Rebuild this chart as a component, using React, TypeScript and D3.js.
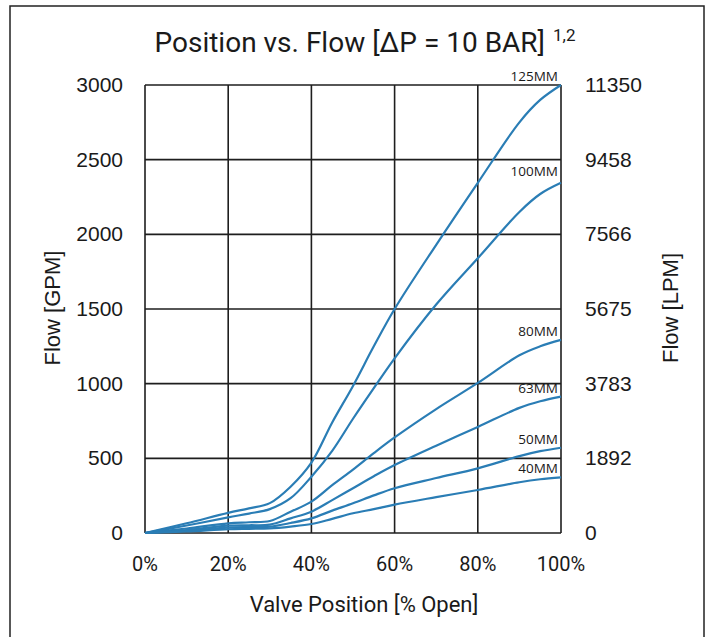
import React, { useEffect, useRef } from "react";
import * as d3 from "d3";

// valve position in % open
const positions = [0, 10, 20, 25, 30, 35, 40, 45, 50, 55, 60, 70, 80, 90, 95, 100];

// flow in GPM for each valve size
const flow125 = [0, 65, 135, 165, 200, 310, 471, 740, 985, 1250, 1500, 1930, 2345, 2750, 2900, 3000];
const flow100 = [0, 50, 105, 130, 160, 233, 377, 550, 765, 970, 1170, 1530, 1840, 2150, 2270, 2345];
const flow80 = [0, 30, 65, 72, 80, 143, 210, 320, 425, 535, 640, 830, 1005, 1190, 1250, 1293];
const flow63 = [0, 20, 49, 52, 56, 98, 143, 220, 300, 380, 455, 585, 710, 838, 882, 913];
const flow50 = [0, 15, 36, 40, 43, 67, 98, 150, 199, 252, 300, 368, 433, 515, 548, 571];
const flow40 = [0, 10, 25, 28, 31, 43, 60, 95, 132, 160, 190, 240, 288, 340, 360, 373];

const sizeLabels = ["125MM", "100MM", "80MM", "63MM", "50MM", "40MM"];
const gpmTicks = [0, 500, 1000, 1500, 2000, 2500, 3000];
const lpmTicks = ["0", "1892", "3783", "5675", "7566", "9458", "11350"];
const xTicks = [0, 20, 40, 60, 80, 100];

const App = () => {
  const ref = useRef<SVGSVGElement>(null);

  useEffect(() => {
    const svg = d3.select(ref.current);
    svg.selectAll("*").remove();

    const left = 145;
    const right = 561;
    const top = 85;
    const bottom = 533;
    const gridColor = "#1e1e1e";
    const lineColor = "#2a7db5";

    const x = d3.scaleLinear().domain([0, 100]).range([left, right]);
    const y = d3.scaleLinear().domain([0, 3000]).range([bottom, top]);

    // outer frame
    svg
      .append("rect")
      .attr("x", 10)
      .attr("y", 6)
      .attr("width", 694)
      .attr("height", 660)
      .attr("fill", "white")
      .attr("stroke", "#222")
      .attr("stroke-width", 1.5);

    // title
    const title = svg
      .append("text")
      .attr("x", 365)
      .attr("y", 52)
      .attr("text-anchor", "middle")
      .style("font-family", "Roboto")
      .style("font-size", "28px")
      .style("fill", "#1a1a1a");
    title.append("tspan").text("Position vs. Flow [ΔP = 10 BAR]");
    title
      .append("tspan")
      .attr("dx", 8)
      .attr("dy", -11)
      .style("font-size", "17px")
      .text("1,2");

    // grid
    const grid = svg.append("g");
    grid
      .selectAll("line.h")
      .data(gpmTicks)
      .enter()
      .append("line")
      .attr("x1", left)
      .attr("x2", right)
      .attr("y1", d => y(d))
      .attr("y2", d => y(d))
      .attr("stroke", gridColor)
      .attr("stroke-width", 1.6);
    grid
      .selectAll("line.v")
      .data(xTicks)
      .enter()
      .append("line")
      .attr("x1", d => x(d))
      .attr("x2", d => x(d))
      .attr("y1", top)
      .attr("y2", bottom)
      .attr("stroke", gridColor)
      .attr("stroke-width", 1.6);

    // left axis labels
    svg
      .append("g")
      .selectAll("text")
      .data(gpmTicks)
      .enter()
      .append("text")
      .attr("x", 123)
      .attr("y", d => y(d) + 7)
      .attr("text-anchor", "end")
      .style("font-family", "Liberation Sans")
      .style("font-size", "21px")
      .style("fill", "#1a1a1a")
      .text(d => d);

    // right axis labels
    svg
      .append("g")
      .selectAll("text")
      .data(lpmTicks)
      .enter()
      .append("text")
      .attr("x", 585)
      .attr("y", (d, i) => y(gpmTicks[i]) + 7)
      .style("font-family", "Liberation Sans")
      .style("font-size", "21px")
      .style("fill", "#1a1a1a")
      .text(d => d);

    // x axis labels
    svg
      .append("g")
      .selectAll("text")
      .data(xTicks)
      .enter()
      .append("text")
      .attr("x", d => x(d))
      .attr("y", 571)
      .attr("text-anchor", "middle")
      .style("font-family", "Roboto")
      .style("font-size", "20px")
      .style("fill", "#1a1a1a")
      .text(d => d + "%");

    svg
      .append("text")
      .attr("x", 364)
      .attr("y", 612)
      .attr("text-anchor", "middle")
      .style("font-family", "Roboto")
      .style("font-size", "22px")
      .style("fill", "#1a1a1a")
      .text("Valve Position [% Open]");

    svg
      .append("text")
      .attr("transform", "translate(60,308) rotate(-90)")
      .attr("text-anchor", "middle")
      .style("font-family", "Liberation Sans")
      .style("font-size", "22px")
      .style("fill", "#1a1a1a")
      .text("Flow [GPM]");

    svg
      .append("text")
      .attr("transform", "translate(678,308) rotate(-90)")
      .attr("text-anchor", "middle")
      .style("font-family", "Liberation Sans")
      .style("font-size", "22px")
      .style("fill", "#1a1a1a")
      .text("Flow [LPM]");

    // curves
    const series = [flow125, flow100, flow80, flow63, flow50, flow40];
    const line = d3
      .line<number>()
      .x((d, i) => x(positions[i]))
      .y(d => y(d))
      .curve(d3.curveCatmullRom.alpha(0.5));

    svg
      .append("g")
      .selectAll("path")
      .data(series)
      .enter()
      .append("path")
      .attr("d", d => line(d))
      .attr("fill", "none")
      .attr("stroke", lineColor)
      .attr("stroke-width", 2.2);

    svg
      .append("g")
      .selectAll("text")
      .data(series)
      .enter()
      .append("text")
      .attr("x", right - 3)
      .attr("y", (d, i) => y(d[d.length - 1]) - (i === 1 ? 7 : 4))
      .attr("text-anchor", "end")
      .style("font-family", "Open Sans")
      .style("font-size", "13.5px")
      .style("fill", "#1a1a1a")
      .text((d, i) => sizeLabels[i]);
  }, []);

  return (
    <div style={{ position: "absolute", left: 0, top: 0 }}>
      <svg ref={ref} width={708} height={637} />
    </div>
  );
};

export default App;
